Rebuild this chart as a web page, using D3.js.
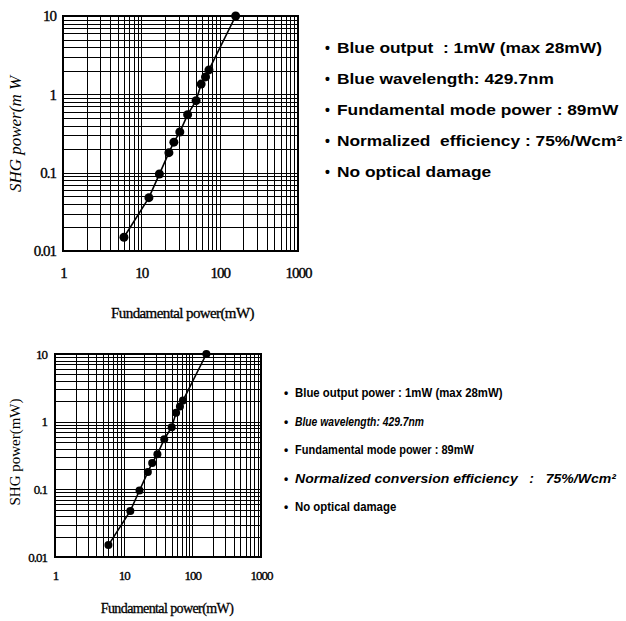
<!DOCTYPE html>
<html>
<head>
<meta charset="utf-8">
<script src="https://cdn.jsdelivr.net/npm/d3@7"></script>
<style>
  body { margin: 0; background: #fff; }
  svg { display: block; }
</style>
</head>
<body>
<svg id="chart" width="626" height="621"></svg>
<script>
/* data */
var fundamentalPower = [6, 12.5, 17, 22.5, 26, 31, 39, 50, 58, 66, 73, 160];
var shgPower = [0.015, 0.048, 0.096, 0.18, 0.245, 0.33, 0.55, 0.83, 1.35, 1.67, 2.05, 10];

var xTicks = [1, 10, 100, 1000];
var xTickLabels = ["1", "10", "100", "1000"];
var yTicks = [0.01, 0.1, 1, 10];
var yTickLabels = ["0.01", "0.1", "1", "10"];

var notesTop = [
    "Blue output  : 1mW (max 28mW)",
    "Blue wavelength: 429.7nm",
    "Fundamental mode power : 89mW",
    "Normalized  efficiency : 75%/Wcm\u00b2",
    "No optical damage"
];
var notesBottom = [
    "Blue output power : 1mW (max 28mW)",
    "Blue wavelength: 429.7nm",
    "Fundamental mode power : 89mW",
    "Normalized conversion efficiency   :   75%/Wcm\u00b2",
    "No optical damage"
];
var notesBottomItalic = [false, true, false, true, false];

var svg = d3.select("#chart");
svg.append("rect").attr("width", 626).attr("height", 621).attr("fill", "#fff");

var serif = "'Liberation Serif', 'Times New Roman', serif";
var sans = "'Liberation Sans', Arial, sans-serif";

/* one log-log panel */
function drawPanel(p){
    var x = d3.scaleLog().domain([1, 1000]).range([p.left, p.right]);
    var y = d3.scaleLog().domain([0.01, 10]).range([p.bottom, p.top]);
    var g = svg.append("g");

    // grid from the log scale's own ticks (1..9 per decade)
    var gx = g.append("g")
        .attr("transform", `translate(0, ${p.bottom})`)
        .call(d3.axisBottom(x).tickSize(-(p.bottom - p.top)).tickFormat(""));
    var gy = g.append("g")
        .attr("transform", `translate(${p.left}, 0)`)
        .call(d3.axisLeft(y).tickSize(-(p.right - p.left)).tickFormat(""));
    [gx, gy].forEach(function(a){
        a.select(".domain").remove();
        a.selectAll("line")
         .attr("stroke", "#000")
         .attr("stroke-width", 1)
         .attr("shape-rendering", "crispEdges");
    });

    g.append("rect")
        .attr("x", p.left).attr("y", p.top)
        .attr("width", p.right - p.left).attr("height", p.bottom - p.top)
        .attr("fill", "none").attr("stroke", "#000").attr("stroke-width", 1.5)
        .attr("shape-rendering", "crispEdges");

    // tick labels
    var ax = g.append("g")
        .attr("transform", `translate(0, ${p.bottom})`)
        .call(d3.axisBottom(x).tickValues(xTicks).tickSize(0).tickPadding(p.xPad)
              .tickFormat(function(d, i){ return xTickLabels[i]; }));
    var ay = g.append("g")
        .attr("transform", `translate(${p.left}, 0)`)
        .call(d3.axisLeft(y).tickValues(yTicks).tickSize(0).tickPadding(p.yPad)
              .tickFormat(function(d, i){ return yTickLabels[i]; }));
    [ax, ay].forEach(function(a){
        a.select(".domain").remove();
        a.selectAll("text")
         .style("font-family", serif)
         .style("font-size", p.tickSize + "px")
         .style("letter-spacing", "-1px")
         .attr("fill", "#000")
         .attr("stroke", "#000")
         .attr("stroke-width", 0.35);
    });

    // data line + dots
    var pts = fundamentalPower.map(function(v, i){ return [v, shgPower[i]]; });
    g.append("path")
        .datum(pts)
        .attr("fill", "none")
        .attr("stroke", "#000")
        .attr("stroke-width", 1.6)
        .attr("d", d3.line().x(d => x(d[0])).y(d => y(d[1])));
    g.selectAll("circle")
        .data(pts)
        .join("circle")
        .attr("cx", d => x(d[0]))
        .attr("cy", d => y(d[1]))
        .attr("r", p.dot)
        .attr("fill", "#000");

    // titles
    g.append("text")
        .attr("x", (p.left + p.right) / 2 + p.xTitleShift)
        .attr("y", p.xTitleY)
        .attr("text-anchor", "middle")
        .style("font-family", serif)
        .style("font-size", p.titleSize + "px")
        .style("letter-spacing", "-0.6px")
        .attr("stroke", "#000")
        .attr("stroke-width", 0.3)
        .text("Fundamental power(mW)");
    g.append("text")
        .attr("transform", `translate(${p.yTitleX}, ${p.yTitleY}) rotate(-90)`)
        .attr("text-anchor", "middle")
        .style("font-family", serif)
        .style("font-size", p.yTitleSize + "px")
        .style("font-style", p.yTitleItalic ? "italic" : "normal")
        .text(p.yTitle);
}

/* bullet list beside a panel */
function drawNotes(n){
    var g = svg.append("g");
    n.lines.forEach(function(t, i){
        var yy = n.y0 + i * n.step;
        g.append("text")
            .attr("x", n.bulletX).attr("y", yy)
            .style("font-family", sans)
            .style("font-size", n.size + "px")
            .style("font-weight", "bold")
            .text("\u2022");
        g.append("text")
            .attr("transform", `translate(${n.textX}, ${yy}) scale(${n.stretch[i]}, 1)`)
            .style("font-family", sans)
            .style("font-size", n.size + "px")
            .style("font-weight", "bold")
            .style("white-space", "pre")
            .style("font-style", n.italic && n.italic[i] ? "italic" : "normal")
            .attr("fill", "#000")
            .text(t);
    });
}

drawPanel({
    left: 63, right: 298, top: 16, bottom: 251,
    xPad: 16, yPad: 7, tickSize: 15, dot: 4.5,
    titleSize: 15, xTitleY: 318, xTitleShift: 2,
    yTitle: "SHG power(m W", yTitleX: 21, yTitleY: 134, yTitleSize: 17, yTitleItalic: true
});
drawPanel({
    left: 55, right: 261, top: 354, bottom: 557,
    xPad: 14, yPad: 8, tickSize: 13, dot: 4,
    titleSize: 14, xTitleY: 613, xTitleShift: 9,
    yTitle: "SHG power(mW)", yTitleX: 20, yTitleY: 452, yTitleSize: 15, yTitleItalic: false
});

drawNotes({ lines: notesTop, bulletX: 325, textX: 337, y0: 53, step: 31, size: 14,
            stretch: [1.24, 1.24, 1.24, 1.24, 1.24] });
drawNotes({ lines: notesBottom, italic: notesBottomItalic, bulletX: 284, textX: 295, y0: 397, step: 28.5, size: 12,
            stretch: [0.95, 0.86, 0.92, 1.17, 0.95] });
</script>
</body>
</html>
